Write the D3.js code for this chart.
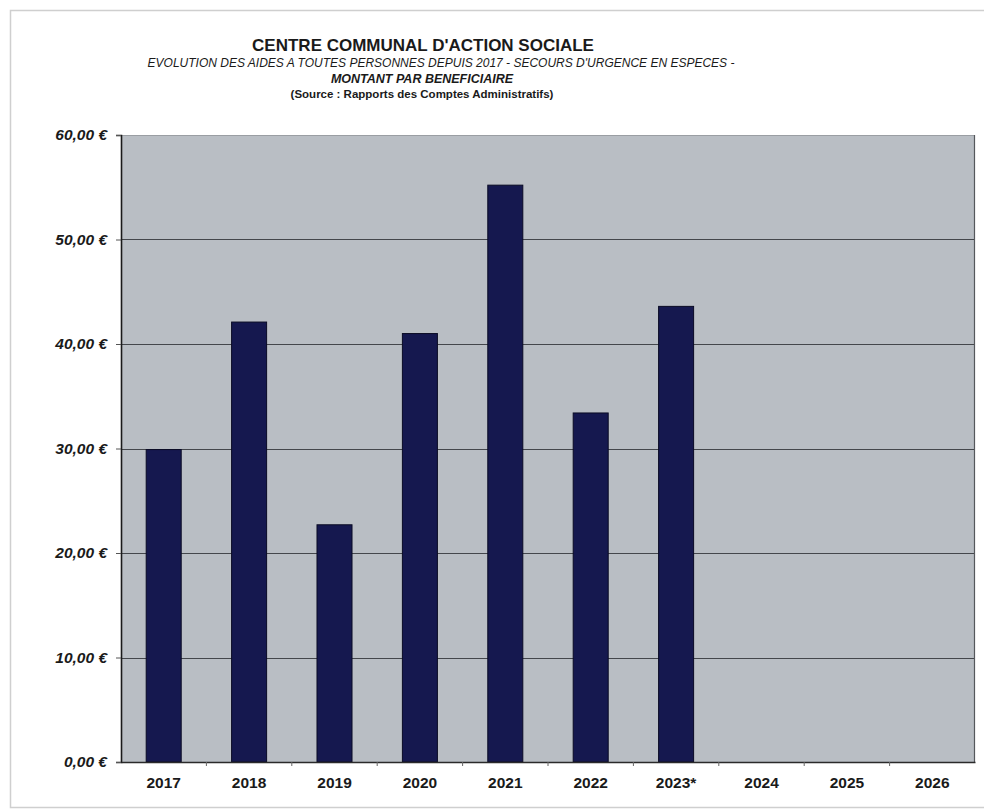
<!DOCTYPE html>
<html>
<head>
<meta charset="utf-8">
<script src="https://cdn.jsdelivr.net/npm/d3@7"></script>
<style>
  html, body { margin: 0; padding: 0; background: #fff; }
  svg { display: block; font-family: "Liberation Sans", Arial, sans-serif; }
</style>
</head>
<body>
<svg id="chart" width="984" height="811"></svg>
<script>
// Montant par bénéficiaire (secours d'urgence en espèces), en euros
const years = ["2017", "2018", "2019", "2020", "2021", "2022", "2023*", "2024", "2025", "2026"];
const amounts = [29.9, 42.1, 22.7, 41.0, 55.2, 33.4, 43.6, null, null, null];
const yTicks = [0, 10, 20, 30, 40, 50, 60];

const titleText = "CENTRE COMMUNAL D'ACTION SOCIALE";
const subtitleText = "EVOLUTION DES AIDES A TOUTES PERSONNES DEPUIS 2017 - SECOURS D'URGENCE EN ESPECES -";
const subtitle2Text = "MONTANT PAR BENEFICIAIRE";
const sourceText = "(Source : Rapports des Comptes Administratifs)";

const svg = d3.select("#chart");
const W = 984;
const plot = { left: 121, top: 135, right: 975, bottom: 762 };
const font = "'Liberation Sans', Arial, sans-serif";

// outer frame of the sheet
svg.append("rect")
  .attr("x", 10.5).attr("y", 10.5)
  .attr("width", W + 20).attr("height", 797)
  .attr("fill", "none").attr("stroke", "#cfcfcf").attr("stroke-width", 1.5);

const x = d3.scaleBand()
  .domain(years)
  .range([plot.left, plot.right])
  .paddingInner(0.59)
  .paddingOuter(0.295);

const xCat = d3.scaleBand().domain(years).range([plot.left, plot.right]);

const y = d3.scaleLinear().domain([0, 60]).range([plot.bottom, plot.top]);

// plot background
svg.append("rect")
  .attr("x", plot.left).attr("y", plot.top)
  .attr("width", plot.right - plot.left).attr("height", plot.bottom - plot.top)
  .attr("fill", "#b9bec4");

// horizontal gridlines
svg.append("g")
  .selectAll("line")
  .data(yTicks.filter(d => d > 0 && d < 60))
  .join("line")
  .attr("x1", plot.left).attr("x2", plot.right)
  .attr("y1", d => Math.round(y(d)) + 0.5).attr("y2", d => Math.round(y(d)) + 0.5)
  .attr("stroke", "#44474c").attr("stroke-width", 1);

// plot border (top lighter, right darker)
svg.append("line")
  .attr("x1", plot.left).attr("x2", plot.right)
  .attr("y1", plot.top + 0.5).attr("y2", plot.top + 0.5)
  .attr("stroke", "#9a9ea3").attr("stroke-width", 1);
svg.append("line")
  .attr("x1", plot.right - 0.5).attr("x2", plot.right - 0.5)
  .attr("y1", plot.top).attr("y2", plot.bottom)
  .attr("stroke", "#55585c").attr("stroke-width", 1.2);

// bars
svg.append("g")
  .selectAll("rect")
  .data(years.map((yr, i) => ({ yr, v: amounts[i] })).filter(d => d.v != null))
  .join("rect")
  .attr("x", d => x(d.yr))
  .attr("y", d => y(d.v))
  .attr("width", x.bandwidth())
  .attr("height", d => y(0) - y(d.v))
  .attr("fill", "#15184f")
  .attr("stroke", "#0a0b25")
  .attr("stroke-width", 1);

// y axis
const yAxis = d3.axisLeft(y)
  .tickValues(yTicks)
  .tickSize(5)
  .tickPadding(9)
  .tickFormat(d => d3.format(".2f")(d).replace(".", ",") + " €");
const gy = svg.append("g")
  .attr("transform", `translate(${plot.left},0)`)
  .call(yAxis)
  .attr("font-family", font)
  .attr("font-size", 15.5);
gy.select(".domain").attr("stroke", "#1a1a1a").attr("stroke-width", 1.6);
gy.selectAll(".tick line").attr("stroke", "#555");
gy.selectAll(".tick text")
  .attr("font-weight", "bold")
  .attr("font-style", "italic")
  .attr("fill", "#1a1a1a");

// x axis
const xAxis = d3.axisBottom(xCat).tickSize(0).tickPadding(0);
const gx = svg.append("g")
  .attr("transform", `translate(0,${plot.bottom})`)
  .call(xAxis)
  .attr("font-family", font)
  .attr("font-size", 15.5);
gx.select(".domain").attr("stroke", "#2a2a2a").attr("stroke-width", 1.6);
gx.selectAll(".tick text")
  .attr("y", 26).attr("dy", null)
  .attr("font-weight", "bold")
  .attr("fill", "#1a1a1a");

// small tick marks between categories
svg.append("g")
  .selectAll("line")
  .data(years.slice(1))
  .join("line")
  .attr("x1", d => xCat(d)).attr("x2", d => xCat(d))
  .attr("y1", plot.bottom).attr("y2", plot.bottom + 4)
  .attr("stroke", "#666");

// titles
const cx = 422;
const titles = svg.append("g").attr("font-family", font).attr("fill", "#1a1a1a");
titles.append("text")
  .attr("x", 423).attr("y", 51)
  .attr("text-anchor", "middle")
  .attr("font-size", 17).attr("font-weight", "bold")
  .text(titleText);
titles.append("text")
  .attr("x", 441).attr("y", 67)
  .attr("text-anchor", "middle")
  .attr("font-size", 12).attr("font-style", "italic")
  .text(subtitleText);
titles.append("text")
  .attr("x", cx).attr("y", 83)
  .attr("text-anchor", "middle")
  .attr("font-size", 12.5).attr("font-style", "italic").attr("font-weight", "bold")
  .text(subtitle2Text);
titles.append("text")
  .attr("x", cx).attr("y", 98)
  .attr("text-anchor", "middle")
  .attr("font-size", 11.5).attr("font-weight", "bold")
  .text(sourceText);
</script>
</body>
</html>
